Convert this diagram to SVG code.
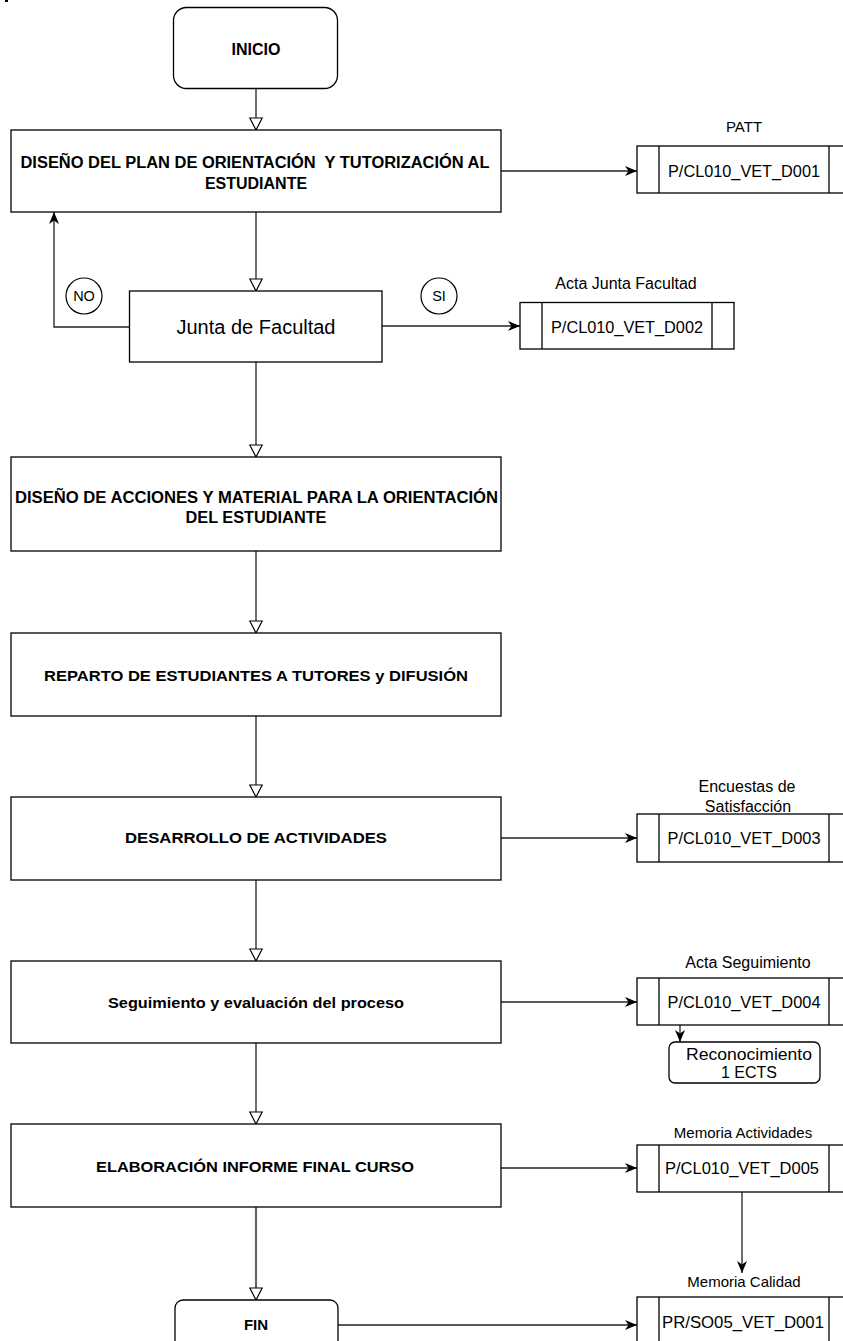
<svg xmlns="http://www.w3.org/2000/svg" width="843" height="1341" viewBox="0 0 843 1341">
<style>
.box{fill:#fff;stroke:#000;stroke-width:1.3}
.doc{fill:#fff;stroke:#000;stroke-width:1.3}
.con{fill:none;stroke:#222;stroke-width:1.3}
.b{font-family:"Liberation Sans",Arial,sans-serif;font-weight:bold;fill:#000;text-anchor:middle}
.r{font-family:"Liberation Sans",Arial,sans-serif;fill:#000;text-anchor:middle}
</style>
<defs>
<marker id="hollow" viewBox="0 0 14 14" refX="13" refY="7" markerWidth="14" markerHeight="14" markerUnits="userSpaceOnUse" orient="auto">
<path d="M1,0.8 L13,7 L1,13.2 Z" fill="#fff" stroke="#000" stroke-width="1.2"/>
</marker>
<marker id="filled" viewBox="0 0 12 10" refX="12" refY="5" markerWidth="12" markerHeight="10" markerUnits="userSpaceOnUse" orient="auto">
<path d="M0,0 L12,5 L0,10 L3.5,5 Z" fill="#000"/>
</marker>
</defs>
<rect width="843" height="1341" fill="#fff"/>
<rect x="5" y="0" width="3" height="2" fill="#000"/>

<g id="connectors">
<line class="con" x1="256" y1="89" x2="256" y2="130" marker-end="url(#hollow)"/>
<line class="con" x1="256" y1="212" x2="256" y2="291" marker-end="url(#hollow)"/>
<line class="con" x1="256" y1="362" x2="256" y2="457" marker-end="url(#hollow)"/>
<line class="con" x1="256" y1="551" x2="256" y2="633" marker-end="url(#hollow)"/>
<line class="con" x1="256" y1="716" x2="256" y2="797" marker-end="url(#hollow)"/>
<line class="con" x1="256" y1="880" x2="256" y2="961" marker-end="url(#hollow)"/>
<line class="con" x1="256" y1="1043" x2="256" y2="1124" marker-end="url(#hollow)"/>
<line x1="256" y1="1207" x2="256" y2="1300" stroke="#666" stroke-width="2.2" marker-end="url(#hollow)"/>
<path class="con" d="M130,327 L54,327 L54,212" marker-end="url(#filled)"/>
<line class="con" x1="501" y1="171" x2="637" y2="171" marker-end="url(#filled)"/>
<line class="con" x1="382" y1="326" x2="520" y2="326" marker-end="url(#filled)"/>
<line class="con" x1="501" y1="838" x2="637" y2="838" marker-end="url(#filled)"/>
<line class="con" x1="501" y1="1002" x2="637" y2="1002" marker-end="url(#filled)"/>
<line class="con" x1="501" y1="1168" x2="637" y2="1168" marker-end="url(#filled)"/>
<line class="con" x1="338" y1="1325" x2="637" y2="1325" marker-end="url(#filled)"/>
<line class="con" x1="680" y1="1025" x2="680" y2="1042" marker-end="url(#filled)"/>
<line class="con" x1="742" y1="1192" x2="742" y2="1273" marker-end="url(#filled)"/>
</g>

<g id="inicio">
<rect class="box" x="173.5" y="7.5" width="164" height="81" rx="13"/>
<text class="b" x="256" y="55" font-size="16">INICIO</text>
</g>

<g id="diseno-plan">
<rect class="box" x="11" y="130" width="490" height="82"/>
<text class="b" x="255" y="168" font-size="16" textLength="469" lengthAdjust="spacingAndGlyphs" xml:space="preserve">DISEÑO DEL PLAN DE ORIENTACIÓN  Y TUTORIZACIÓN AL</text>
<text class="b" x="256" y="189" font-size="16">ESTUDIANTE</text>
</g>

<g id="doc1">
<text class="r" x="744" y="132" font-size="15">PATT</text>
<rect class="doc" x="637" y="146" width="214" height="47"/>
<line class="doc" x1="659" y1="146" x2="659" y2="193"/>
<line class="doc" x1="829" y1="146" x2="829" y2="193"/>
<text class="r" x="744" y="177" font-size="16" textLength="152" lengthAdjust="spacingAndGlyphs">P/CL010_VET_D001</text>
</g>

<g id="junta">
<rect class="box" x="129.5" y="291" width="252.5" height="71"/>
<text class="r" x="256" y="334" font-size="20">Junta de Facultad</text>
</g>

<g id="no">
<circle cx="84" cy="296" r="18" fill="#fff" stroke="#000" stroke-width="1.2"/>
<text class="r" x="84" y="301" font-size="14.5">NO</text>
</g>

<g id="si">
<circle cx="439" cy="296" r="18" fill="#fff" stroke="#000" stroke-width="1.2"/>
<text class="r" x="439" y="301" font-size="14.5">SI</text>
</g>

<g id="doc2">
<text class="r" x="626" y="289" font-size="16">Acta Junta Facultad</text>
<rect class="doc" x="520" y="302.5" width="214" height="46.5"/>
<line class="doc" x1="542" y1="302.5" x2="542" y2="349"/>
<line class="doc" x1="712" y1="302.5" x2="712" y2="349"/>
<text class="r" x="627" y="333" font-size="16" textLength="152" lengthAdjust="spacingAndGlyphs">P/CL010_VET_D002</text>
</g>

<g id="diseno-acciones">
<rect class="box" x="11" y="457" width="490" height="94"/>
<text class="b" x="256.5" y="503" font-size="16" textLength="483" lengthAdjust="spacingAndGlyphs">DISEÑO DE ACCIONES Y MATERIAL PARA LA ORIENTACIÓN</text>
<text class="b" x="256" y="523" font-size="16" textLength="141" lengthAdjust="spacingAndGlyphs">DEL ESTUDIANTE</text>
</g>

<g id="reparto">
<rect class="box" x="11" y="633" width="490" height="83"/>
<text class="b" x="256" y="681" font-size="15.5" textLength="424" lengthAdjust="spacingAndGlyphs">REPARTO DE ESTUDIANTES A TUTORES y DIFUSIÓN</text>
</g>

<g id="desarrollo">
<rect class="box" x="11" y="797" width="490" height="83"/>
<text class="b" x="256" y="843" font-size="15" textLength="262" lengthAdjust="spacingAndGlyphs">DESARROLLO DE ACTIVIDADES</text>
</g>

<g id="doc3">
<text class="r" x="747" y="792" font-size="16">Encuestas de</text>
<text class="r" x="748" y="812" font-size="16">Satisfacción</text>
<rect class="doc" x="637" y="814" width="214" height="48"/>
<line class="doc" x1="659" y1="814" x2="659" y2="862"/>
<line class="doc" x1="829" y1="814" x2="829" y2="862"/>
<text class="r" x="744" y="844" font-size="16" textLength="153" lengthAdjust="spacingAndGlyphs">P/CL010_VET_D003</text>
</g>

<g id="seguimiento">
<rect class="box" x="11" y="961" width="490" height="82"/>
<text class="b" x="256" y="1008" font-size="15" textLength="296" lengthAdjust="spacingAndGlyphs">Seguimiento y evaluación del proceso</text>
</g>

<g id="doc4">
<text class="r" x="748" y="968" font-size="16">Acta Seguimiento</text>
<rect class="doc" x="637" y="978" width="214" height="47"/>
<line class="doc" x1="659" y1="978" x2="659" y2="1025"/>
<line class="doc" x1="829" y1="978" x2="829" y2="1025"/>
<text class="r" x="744" y="1008" font-size="16" textLength="153" lengthAdjust="spacingAndGlyphs">P/CL010_VET_D004</text>
</g>

<g id="reconocimiento">
<rect class="box" x="669" y="1042" width="151" height="41" rx="6"/>
<text class="r" x="749" y="1060" font-size="16" textLength="126" lengthAdjust="spacingAndGlyphs">Reconocimiento</text>
<text class="r" x="749" y="1078" font-size="16">1 ECTS</text>
</g>

<g id="elaboracion">
<rect class="box" x="11" y="1124" width="490" height="83"/>
<text class="b" x="255" y="1172" font-size="15" textLength="318" lengthAdjust="spacingAndGlyphs">ELABORACIÓN INFORME FINAL CURSO</text>
</g>

<g id="doc5">
<text class="r" x="743" y="1138" font-size="15">Memoria Actividades</text>
<rect class="doc" x="637" y="1145" width="214" height="47"/>
<line class="doc" x1="659" y1="1145" x2="659" y2="1192"/>
<line class="doc" x1="829" y1="1145" x2="829" y2="1192"/>
<text class="r" x="742" y="1174" font-size="16" textLength="154" lengthAdjust="spacingAndGlyphs">P/CL010_VET_D005</text>
</g>

<g id="fin">
<rect class="box" x="175" y="1300" width="163" height="60" rx="8"/>
<text class="b" x="256" y="1330" font-size="15">FIN</text>
</g>

<g id="doc6">
<text class="r" x="744" y="1287" font-size="15">Memoria Calidad</text>
<rect class="doc" x="637" y="1297" width="214" height="60"/>
<line class="doc" x1="659" y1="1297" x2="659" y2="1357"/>
<line class="doc" x1="829" y1="1297" x2="829" y2="1357"/>
<text class="r" x="743" y="1328" font-size="16" textLength="162" lengthAdjust="spacingAndGlyphs">PR/SO05_VET_D001</text>
</g>
</svg>
